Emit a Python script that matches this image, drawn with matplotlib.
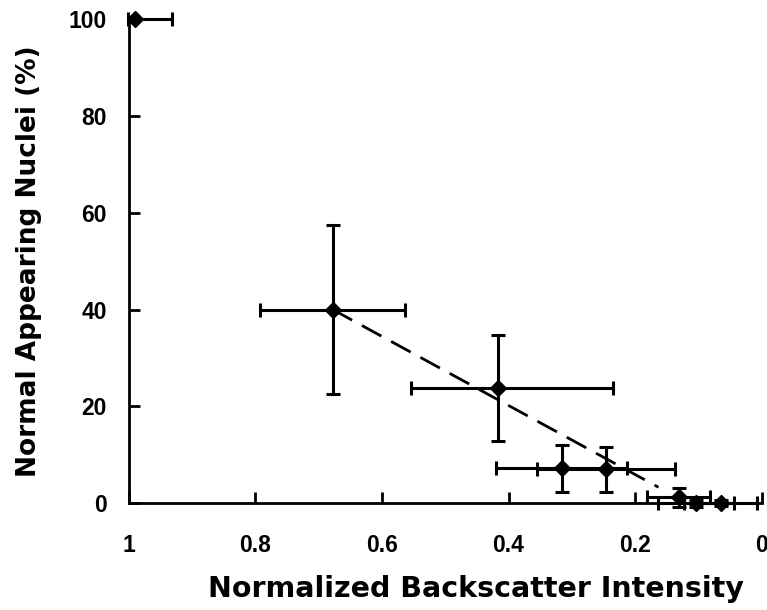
import numpy as np
import matplotlib
matplotlib.use("Agg")
import matplotlib.pyplot as plt

plt.rcParams['font.family'] = ['Liberation Sans', 'DejaVu Sans']
plt.rcParams['font.weight'] = 'bold'

# backscatter intensity vs % normal nuclei
bs_int = [0.99, 0.678, 0.417, 0.316, 0.246, 0.131, 0.103, 0.065]
normal_pct = [100, 40.0, 23.8, 7.2, 7.0, 1.2, 0.0, 0.0]
# minus = towards 0 (right on the flipped axis), plus = towards 1
xerr_minus = [0.058, 0.115, 0.182, 0.103, 0.109, 0.05, 0.06, 0.058]
xerr_plus = [0.012, 0.115, 0.137, 0.103, 0.109, 0.05, 0.06, 0.058]
yerr = [0.0, 17.5, 11.0, 4.8, 4.7, 1.9, 0.8, 0.6]

# dashed trend line (linear fit over the lower points)
trend_x = [0.678, 0.163]
trend_y = [40.0, 3.3]

fig = plt.figure(figsize=(7.67, 6.10), dpi=100)
ax = fig.add_axes([0.168, 0.175, 0.825, 0.794])

ax.plot(trend_x, trend_y, color='black', lw=2, ls=(0, (8, 4)))
ax.errorbar(bs_int, normal_pct, xerr=[xerr_minus, xerr_plus], yerr=yerr,
            fmt='D', color='black', ms=8.5, elinewidth=2.2, capsize=5,
            capthick=2.2, clip_on=False, zorder=3)

ax.set_xlim(1, 0)
ax.set_ylim(0, 100)
ax.set_xticks([1, 0.8, 0.6, 0.4, 0.2, 0])
ax.set_xticklabels(['1', '0.8', '0.6', '0.4', '0.2', '0'])
ax.set_yticks([0, 20, 40, 60, 80, 100])
ax.spines['top'].set_visible(False)
ax.spines['right'].set_visible(False)
ax.spines['left'].set_linewidth(2)
ax.spines['bottom'].set_linewidth(2)
ax.tick_params(direction='in', length=8, width=2, labelsize=16.5)
ax.tick_params(axis='x', pad=22)
ax.tick_params(axis='y', pad=16)

lab_font = dict(fontweight='bold', family='DejaVu Sans')
ax.set_xlabel('Normalized Backscatter Intensity', fontsize=20.5, **lab_font)
ax.xaxis.label.set_verticalalignment('baseline')
ax.xaxis.set_label_coords(0.548, -0.194)
ax.set_ylabel('Normal Appearing Nuclei (%)', fontsize=19, labelpad=19,
              **lab_font)

plt.savefig('out.png', dpi=100)
